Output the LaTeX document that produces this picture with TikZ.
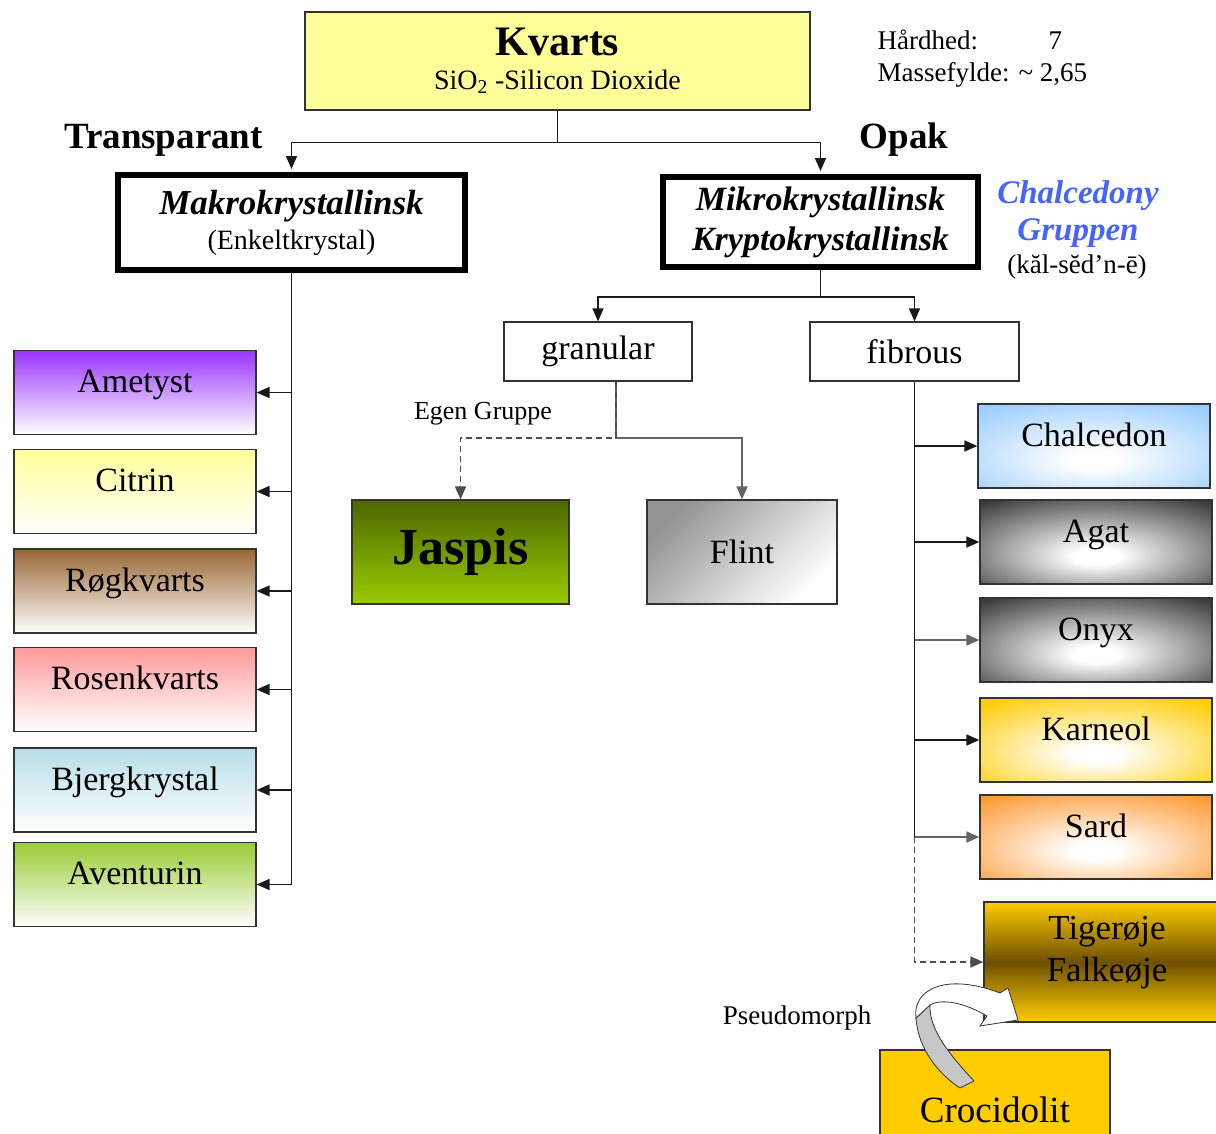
\documentclass[tikz,border=0pt]{standalone}
\usepackage{fontspec}
\setmainfont{Liberation Serif}
\usetikzlibrary{arrows.meta}

\definecolor{kvartsgul}{RGB}{255,255,153}
\definecolor{ametystc}{RGB}{153,51,255}
\definecolor{citrinc}{RGB}{255,255,153}
\definecolor{roegc}{RGB}{153,102,51}
\definecolor{rosenc}{RGB}{255,153,153}
\definecolor{bjergc}{RGB}{183,222,232}
\definecolor{aventurinc}{RGB}{153,204,51}
\definecolor{chalcedonc}{RGB}{153,204,255}
\definecolor{agatc}{RGB}{60,60,60}
\definecolor{karneolc}{RGB}{255,204,0}
\definecolor{sardc}{RGB}{255,153,51}
\definecolor{tigermork}{RGB}{110,80,0}
\definecolor{jaspismork}{RGB}{77,102,0}
\definecolor{jaspislys}{RGB}{153,204,0}
\definecolor{gruppeblaa}{RGB}{70,100,250}

\colorlet{glowc}{gray}
\pgfdeclareradialshading[glowc]{glow}{\pgfpoint{0bp}{-9bp}}{color(0bp)=(white); color(5bp)=(white); color(37bp)=(glowc); color(80bp)=(glowc)}

\tikzset{
  line/.style={line width=1.7pt, draw=black!90},
  conn/.style={line, -{Triangle[length=13pt,width=11pt]}},
  dashconn/.style={conn, dash pattern=on 6pt off 4pt, draw=black!70},
  stone/.style={draw=black!80, line width=1.2pt, inner sep=0pt, minimum width=242pt, minimum height=84pt,
    text height=0.72em, text depth=0.72em, font=\fontsize{34}{40}\selectfont},
  fadebox/.style={stone, top color=#1, bottom color=white},
  glowbox/.style={stone, minimum width=232pt},
  groupbox/.style={draw=black, line width=6pt, fill=white, inner sep=0pt, align=center},
  plainbox/.style={draw=black!80, line width=1.2pt, fill=white, inner sep=0pt, font=\fontsize{34}{40}\selectfont}
}

\begin{document}
\begin{tikzpicture}[x=1pt, y=-1pt]
\useasboundingbox (0,0) rectangle (1216,1133);
\clip (0,0) rectangle (1216,1133);

\node[draw=black!80, line width=1.2pt, fill=kvartsgul, minimum width=505pt, minimum height=98pt, align=center,
  font=\fontsize{28}{34}\selectfont] (kvarts) at (557.5,61)
  {{\fontsize{42}{42}\selectfont\bfseries Kvarts}\\SiO\textsubscript{2} -Silicon Dioxide};
\node[anchor=base west, font=\fontsize{27}{32}\selectfont] (hardhed) at (874,49) {\makebox[171pt][l]{Hårdhed:}7};
\node[anchor=base west, font=\fontsize{27}{32}\selectfont] (massefylde) at (874,81) {Massefylde: \textasciitilde{} 2,65};

\node[anchor=base, font=\fontsize{37}{40}\selectfont\bfseries] (transparant) at (163.5,148) {Transparant};
\node[anchor=base, font=\fontsize{37}{40}\selectfont\bfseries] (opak) at (904,148) {Opak};

\node[groupbox, minimum width=347pt, minimum height=95pt, font=\fontsize{28}{35}\selectfont] (makro) at (291.5,222.5)
  {{\fontsize{35}{35}\selectfont\bfseries\itshape Makrokrystallinsk}\\(Enkeltkrystal)};
\node[groupbox, minimum width=315pt, minimum height=90pt, font=\fontsize{34}{40}\selectfont\bfseries\itshape] (mikro) at (820.5,222)
  {Mikrokrystallinsk\\Kryptokrystallinsk};

\node[anchor=base, text=gruppeblaa, font=\fontsize{33}{36}\selectfont\bfseries\itshape] (chalcedony) at (1078,203) {Chalcedony};
\node[anchor=base, text=gruppeblaa, font=\fontsize{33}{36}\selectfont\bfseries\itshape] (gruppen) at (1078,240) {Gruppen};
\node[anchor=base, font=\fontsize{27}{30}\selectfont] (udtale) at (1077,273) {(kăl-sĕd'n-ē)};

\node[fadebox=ametystc] (ametyst) at (135,392.5) {Ametyst};
\node[fadebox=citrinc] (citrin) at (135,491.5) {Citrin};
\node[fadebox=roegc] (roegkvarts) at (135,591) {Røgkvarts};
\node[fadebox=rosenc] (rosenkvarts) at (135,689.5) {Rosenkvarts};
\node[fadebox=bjergc] (bjergkrystal) at (135,790) {Bjergkrystal};
\node[fadebox=aventurinc] (aventurin) at (135,884.5) {Aventurin};

\node[plainbox, minimum width=188pt, minimum height=59pt] (granular) at (598,351.5) {granular};
\node[plainbox, minimum width=209pt, minimum height=59pt] (fibrous) at (914.5,351.5) {fibrous};
\node[anchor=base, font=\fontsize{26}{30}\selectfont] (egen) at (483,419) {Egen Gruppe};

\node[draw=black!80, line width=1.2pt, minimum width=217pt, minimum height=104pt, top color=jaspismork, bottom color=jaspislys,
  font=\fontsize{52}{56}\selectfont\bfseries] (jaspis) at (460.5,552) {Jaspis};
\node[draw=black!80, line width=1.2pt, minimum width=190pt, minimum height=104pt, top color=black!42, bottom color=white,
  shading angle=45, font=\fontsize{34}{40}\selectfont] (flint) at (742,552) {Flint};

\foreach \gx/\gy/\gc in {1094/446/chalcedonc, 1096/542/agatc, 1096/640/agatc, 1096/740/karneolc, 1096/837/sardc}{
  \colorlet{glowc}{\gc}
  \shade[shading=glow, transform canvas={shift={(\gx,\gy)}, xscale=2.762}] (-42,-42) rectangle (42,42);
}
\node[glowbox] (chalcedon) at (1094,446) {Chalcedon};
\node[glowbox] (agat) at (1096,542) {Agat};
\node[glowbox] (onyx) at (1096,640) {Onyx};
\node[glowbox] (karneol) at (1096,740) {Karneol};
\node[glowbox] (sard) at (1096,837) {Sard};

\node[draw=black!80, line width=1.2pt, minimum width=246pt, minimum height=120pt, top color=karneolc, bottom color=karneolc,
  middle color=tigermork, align=center, text depth=26pt, font=\fontsize{35}{42}\selectfont] (tiger) at (1107,962) {Tigerøje\\Falkeøje};
\node[draw=black!80, line width=1.2pt, fill=karneolc, minimum width=230pt, minimum height=110pt, text height=34pt, text depth=0pt,
  font=\fontsize{37}{40}\selectfont] (crocidolit) at (995,1105) {Crocidolit};
\node[anchor=base, font=\fontsize{27}{30}\selectfont] (pseudomorph) at (797,1024) {Pseudomorph};

\draw[conn, shorten >=3pt] (kvarts.south) -- ++(0,32) -| (makro.north);
\draw[conn, shorten >=3pt] (kvarts.south) -- ++(0,32) -| (mikro.north);

\draw[line] (makro.south) -- (makro.south |- aventurin.east);
\draw[conn] (makro.south |- ametyst.east) -- (ametyst.east);
\draw[conn] (makro.south |- citrin.east) -- (citrin.east);
\draw[conn] (makro.south |- roegkvarts.east) -- (roegkvarts.east);
\draw[conn] (makro.south |- rosenkvarts.east) -- (rosenkvarts.east);
\draw[conn] (makro.south |- bjergkrystal.east) -- (bjergkrystal.east);
\draw[conn] (makro.south |- aventurin.east) -- (aventurin.east);

\draw[conn] (mikro.south) -- ++(0,27) -| (granular.north);
\draw[conn] (mikro.south) -- ++(0,27) -| (fibrous.north);

\coordinate (gsplit) at (616,438);
\draw[conn, draw=black!60] (granular.south -| gsplit) -- (gsplit) -| (flint.north);
\draw[dashconn] (granular.south -| gsplit) -- (gsplit) -| (jaspis.north);

\draw[line] (fibrous.south) -- (fibrous.south |- sard.west);
\draw[conn] (fibrous.south |- chalcedon.west) -- (chalcedon.west);
\draw[conn] (fibrous.south |- agat.west) -- (agat.west);
\draw[conn, draw=black!60] (fibrous.south |- onyx.west) -- (onyx.west);
\draw[conn] (fibrous.south |- karneol.west) -- (karneol.west);
\draw[conn, draw=black!60] (fibrous.south |- sard.west) -- (sard.west);
\draw[dashconn] (fibrous.south |- sard.west) |- (tiger.west);

\filldraw[fill=black!22, draw=black!80, line width=0.8pt] (916,1018) .. controls (918,1050) and (940,1075) .. (960,1088)
  -- (974,1081) .. controls (950,1055) and (929,1030) .. (930,1005) -- cycle;
\filldraw[fill=white, draw=black!80, line width=0.8pt] (916,1018) .. controls (912,990) and (945,972) .. (1000,993)
  -- (1008,988) -- (1018,1020) -- (980,1026) -- (987,1016) .. controls (965,1003) and (942,998) .. (930,1005) -- cycle;
\end{tikzpicture}
\end{document}
